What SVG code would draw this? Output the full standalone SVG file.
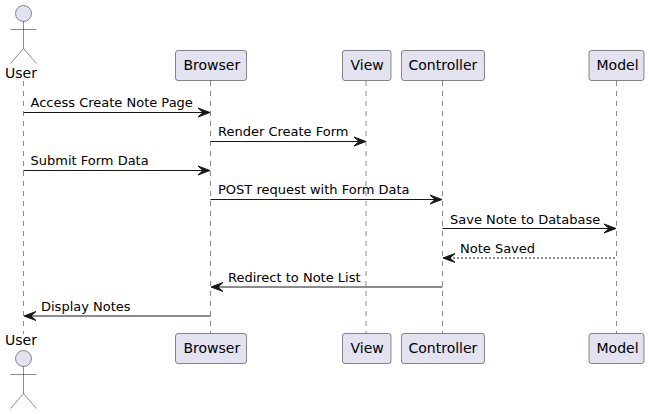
<svg xmlns="http://www.w3.org/2000/svg" width="649" height="414" viewBox="0 0 649 414">
<style>
text{font-family:"DejaVu Sans",sans-serif;fill:#000}
.n{font-size:14px}
.m{font-size:13px}
.life{stroke:#181818;stroke-width:.5;stroke-dasharray:5 5;fill:none}
.box{fill:#E2E2F0;stroke:#181818;stroke-width:.5}
.act{fill:#E2E2F0;stroke:#181818;stroke-width:.5}
.ln{stroke:#181818;stroke-width:1;fill:none}
.dash{stroke-dasharray:2 2}
.ah{fill:#181818;stroke:#181818}
</style>
<defs>
<g id="actor"><circle class="act" cx="0" cy="0" r="8"/><path class="act" style="fill:none" d="M0 8V35M-13 16H13M0 35L-13 50M0 35L13 50"/></g>
</defs>
<g id="lifelines">
<line class="life" x1="23.5" y1="81" x2="23.5" y2="334"/>
<line class="life" x1="210.5" y1="81" x2="210.5" y2="334"/>
<line class="life" x1="366" y1="81" x2="366" y2="334"/>
<line class="life" x1="442.5" y1="81" x2="442.5" y2="334"/>
<line class="life" x1="616.5" y1="81" x2="616.5" y2="334"/>
</g>
<g id="connectors">
<path class="ln" d="M23.5 112.5H204"/><polygon class="ah" points="210,112.5 198,108 203,112.5 198,117"/>
<path class="ln" d="M210.5 141.5H360"/><polygon class="ah" points="366,141.5 354,137 359,141.5 354,146"/>
<path class="ln" d="M23.5 170.5H204"/><polygon class="ah" points="210,170.5 198,166 203,170.5 198,175"/>
<path class="ln" d="M210.5 199.5H436"/><polygon class="ah" points="442,199.5 430,195 435,199.5 430,204"/>
<path class="ln" d="M442.5 228.5H610"/><polygon class="ah" points="616,228.5 604,224 609,228.5 604,233"/>
<path class="ln dash" d="M449 258H616.5"/><polygon class="ah" points="443,258 455,253.500 450,258 455,262.500"/>
<path class="ln" d="M217 287H442.500"/><polygon class="ah" points="211,287 223,282.500 218,287 223,291.500"/>
<path class="ln" d="M30 316H210.500"/><polygon class="ah" points="24,316 36,311.500 31,316 36,320.500"/>
</g>
<g id="labels">
<text class="m" x="30.500" y="107">Access Create Note Page</text>
<text class="m" x="218" y="136">Render Create Form</text>
<text class="m" x="30.500" y="165">Submit Form Data</text>
<text class="m" x="218" y="194">POST request with Form Data</text>
<text class="m" x="450" y="223.500">Save Note to Database</text>
<text class="m" x="460" y="252.500">Note Saved</text>
<text class="m" x="228" y="281.500">Redirect to Note List</text>
<text class="m" x="41" y="310.500">Display Notes</text>
</g>
<g id="user-top"><use href="#actor" x="23.500" y="13.500"/><text class="n" x="5" y="78">User</text></g>
<g id="user-bottom"><use href="#actor" x="23.500" y="358.500"/><text class="n" x="5" y="345">User</text></g>
<g id="browser-top"><rect class="box" x="175.500" y="50.500" width="71" height="30" rx="2.500"/><text class="n" x="183.500" y="70">Browser</text></g>
<g id="view-top"><rect class="box" x="342.500" y="50.500" width="48.500" height="30" rx="2.500"/><text class="n" x="350.500" y="70">View</text></g>
<g id="controller-top"><rect class="box" x="401.500" y="50.500" width="83" height="30" rx="2.500"/><text class="n" x="408.500" y="70">Controller</text></g>
<g id="model-top"><rect class="box" x="589" y="50.500" width="55" height="30" rx="2.500"/><text class="n" x="596.500" y="70">Model</text></g>
<g id="browser-bottom"><rect class="box" x="175.500" y="333.500" width="71" height="30" rx="2.500"/><text class="n" x="183.500" y="353">Browser</text></g>
<g id="view-bottom"><rect class="box" x="342.500" y="333.500" width="48.500" height="30" rx="2.500"/><text class="n" x="350.500" y="353">View</text></g>
<g id="controller-bottom"><rect class="box" x="401.500" y="333.500" width="83" height="30" rx="2.500"/><text class="n" x="408.500" y="353">Controller</text></g>
<g id="model-bottom"><rect class="box" x="589" y="333.500" width="55" height="30" rx="2.500"/><text class="n" x="596.500" y="353">Model</text></g>
</svg>
